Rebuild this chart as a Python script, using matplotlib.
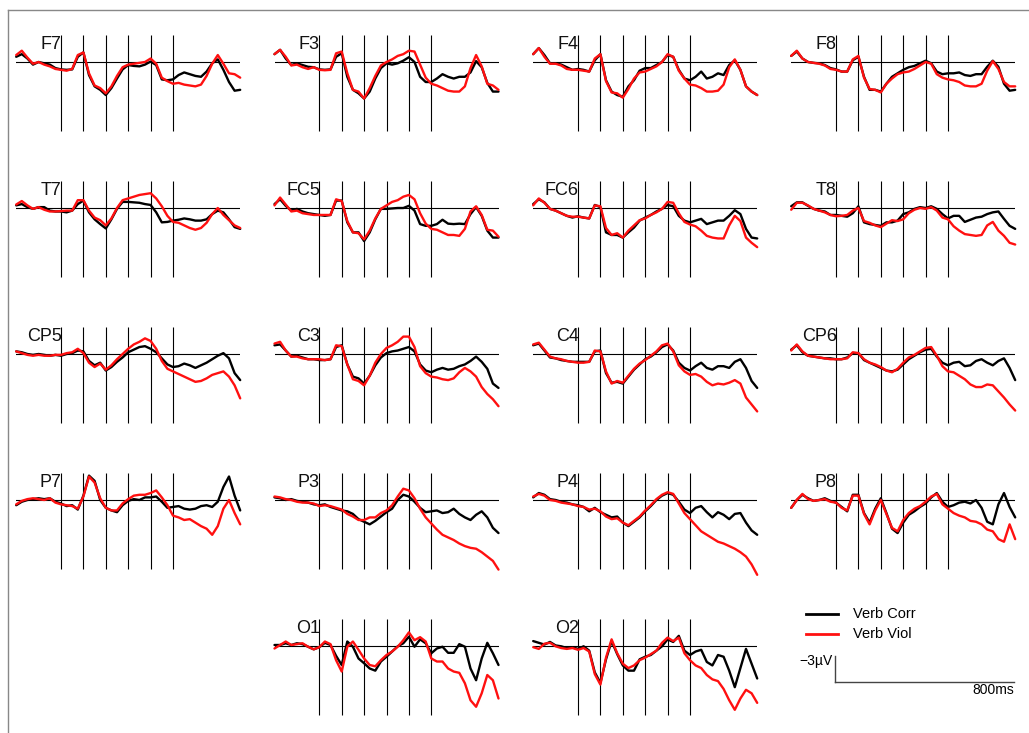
import numpy as np
import matplotlib
matplotlib.use('Agg')
import matplotlib.pyplot as plt
from matplotlib.lines import Line2D

plt.rcParams['font.family'] = ['Liberation Sans', 'DejaVu Sans']

# time axis (ms) and the marker lines
times = np.arange(-200, 801, 25)
markers = [0, 100, 200, 300, 400, 500]

# amplitudes in microvolt, negative plotted up
f7_corr = [-0.6, -0.9, -0.4, 0.3, 0.0, 0.15, 0.3, 0.7, 0.85, 0.9, 0.85, -0.6, -1.1, 1.5, 2.8, 3.2, 3.8, 3.0, 1.9, 0.85, 0.35, 0.45, 0.5, 0.3, -0.05, 0.35, 2.0, 2.1, 2.0, 1.5, 1.2, 1.4, 1.6, 1.7, 1.1, 0.15, -0.3, 0.9, 2.3, 3.3, 3.2]
f7_viol = [-0.8, -1.3, -0.5, 0.2, 0.0, 0.3, 0.5, 0.8, 0.9, 1.0, 0.8, -0.8, -1.1, 1.3, 2.7, 3.0, 3.6, 2.8, 1.6, 0.6, 0.3, 0.2, 0.1, 0.0, -0.4, 0.2, 1.8, 2.2, 2.5, 2.4, 2.6, 2.7, 2.8, 2.6, 1.6, 0.2, -0.8, 0.2, 1.3, 1.4, 1.8]
f3_corr = [-0.9, -1.4, -0.4, 0.35, 0.15, 0.35, 0.55, 0.6, 0.85, 0.9, 0.85, -0.6, -1.0, 1.7, 3.2, 3.6, 4.2, 3.4, 1.9, 0.7, 0.15, 0.3, 0.15, -0.15, -0.55, 0.0, 1.7, 2.3, 2.3, 1.9, 1.4, 1.7, 1.9, 1.7, 1.7, 1.2, -0.1, 0.6, 2.4, 3.4, 3.4]
f3_viol = [-0.9, -1.4, -0.6, 0.4, 0.3, 0.6, 0.8, 0.6, 0.9, 0.95, 0.9, -1.0, -1.2, 1.3, 3.2, 3.4, 4.2, 3.0, 1.6, 0.4, 0.0, -0.3, -0.7, -0.9, -1.3, -1.2, 0.3, 1.8, 2.5, 2.7, 3.0, 3.3, 3.4, 3.4, 2.8, 0.7, -0.8, 0.5, 2.5, 2.7, 3.2]
f4_corr = [-0.9, -1.6, -0.8, 0.15, 0.15, 0.3, 0.6, 0.9, 0.8, 0.9, 1.1, -0.2, -0.9, 2.1, 3.4, 3.8, 4.0, 2.8, 2.1, 1.0, 0.7, 0.7, 0.35, 0.0, -0.8, -0.6, 0.9, 1.9, 2.1, 1.7, 1.1, 1.9, 1.7, 1.3, 1.5, 0.35, -0.2, 0.9, 2.8, 3.4, 3.8]
f4_viol = [-0.9, -1.6, -0.6, 0.2, 0.2, 0.4, 0.8, 0.9, 0.9, 1.0, 1.1, -0.4, -0.9, 2.2, 3.5, 3.6, 4.1, 3.1, 1.9, 1.2, 1.1, 0.8, 0.5, 0.0, -0.9, -0.6, 1.0, 1.9, 2.6, 2.7, 3.0, 3.4, 3.4, 3.3, 2.6, 0.6, -0.3, 0.9, 2.8, 3.4, 3.8]
f8_corr = [-0.7, -1.2, -0.4, 0.0, 0.1, 0.15, 0.35, 0.7, 0.85, 1.1, 1.1, -0.2, -0.6, 1.7, 3.2, 3.2, 3.4, 2.5, 1.7, 1.3, 0.9, 0.6, 0.45, 0.15, -0.15, 0.15, 1.1, 1.4, 1.3, 1.3, 1.2, 1.5, 1.6, 1.4, 1.4, 0.55, -0.15, 0.55, 2.5, 3.3, 3.2]
f8_viol = [-0.7, -1.3, -0.4, 0.0, 0.1, 0.2, 0.4, 0.8, 0.9, 1.1, 1.1, -0.3, -0.7, 1.8, 3.1, 3.2, 3.5, 2.5, 1.9, 1.4, 1.2, 1.1, 0.8, 0.4, 0.0, 0.2, 1.4, 1.8, 2.0, 2.1, 2.3, 2.7, 2.8, 2.8, 2.5, 1.0, -0.1, 0.8, 2.3, 2.8, 2.8]
t7_corr = [-0.3, -0.45, -0.1, 0.1, -0.1, -0.1, 0.3, 0.4, 0.4, 0.5, 0.3, -0.45, -0.85, 0.5, 1.3, 1.85, 2.35, 1.3, 0.1, -0.7, -0.7, -0.65, -0.6, -0.45, -0.35, 0.5, 1.65, 1.6, 1.45, 1.35, 1.2, 1.3, 1.45, 1.45, 1.3, 0.7, 0.3, 0.5, 1.3, 2.2, 2.4]
t7_viol = [-0.4, -0.8, -0.3, 0.1, -0.1, 0.2, 0.4, 0.4, 0.35, 0.3, 0.3, -0.9, -0.9, 0.3, 1.1, 1.4, 2.0, 1.2, 0.0, -0.9, -1.1, -1.3, -1.5, -1.6, -1.7, -1.1, -0.2, 0.9, 1.6, 1.7, 2.0, 2.3, 2.5, 2.3, 1.7, 0.7, 0.0, 0.8, 1.4, 2.0, 2.3]
fc5_corr = [-0.45, -1.0, -0.25, 0.3, 0.1, 0.4, 0.6, 0.7, 0.8, 0.9, 0.8, -0.85, -0.85, 1.65, 2.8, 2.8, 3.8, 2.8, 1.3, 0.1, 0.1, 0.05, 0.0, 0.0, -0.25, 0.3, 1.85, 2.05, 2.05, 1.85, 1.35, 1.8, 1.85, 1.8, 1.85, 0.7, -0.1, 0.9, 2.6, 3.4, 3.4]
fc5_viol = [-0.3, -1.2, -0.4, 0.4, 0.3, 0.6, 0.7, 0.8, 0.8, 0.8, 0.8, -1.0, -0.8, 1.5, 2.8, 2.9, 3.6, 2.6, 1.2, 0.1, -0.3, -0.7, -0.9, -1.3, -1.5, -1.0, 0.6, 1.8, 2.4, 2.5, 2.8, 3.1, 3.1, 3.2, 2.4, 0.4, -0.2, 0.8, 2.5, 2.6, 3.3]
fc6_corr = [-0.45, -1.0, -0.65, 0.1, 0.3, 0.6, 0.9, 1.1, 0.95, 1.1, 1.2, -0.35, -0.1, 2.8, 3.1, 3.1, 3.4, 2.8, 2.25, 1.45, 1.1, 0.8, 0.4, 0.1, -0.35, -0.2, 0.9, 1.45, 1.65, 1.45, 1.25, 1.85, 1.65, 1.45, 1.45, 0.9, 0.25, 0.7, 2.4, 3.4, 3.5]
fc6_viol = [-0.3, -1.1, -0.6, 0.1, 0.3, 0.6, 0.9, 1.0, 1.0, 1.1, 1.2, -0.3, -0.2, 2.3, 3.1, 2.9, 3.4, 2.6, 2.0, 1.4, 1.2, 0.8, 0.5, 0.1, -0.7, -0.6, 0.6, 1.6, 1.9, 2.1, 2.6, 3.2, 3.4, 3.5, 3.5, 2.0, 0.9, 1.5, 3.4, 4.0, 4.5]
t8_corr = [-0.2, -0.65, -0.65, -0.25, 0.1, 0.3, 0.4, 0.8, 0.8, 0.9, 1.0, 0.6, -0.2, 1.65, 1.85, 1.95, 2.05, 1.65, 1.65, 1.45, 0.7, 0.5, 0.1, -0.1, 0.0, -0.2, 0.1, 0.7, 1.2, 0.9, 0.9, 1.6, 1.35, 1.1, 1.0, 0.7, 0.5, 0.4, 1.25, 2.05, 2.4]
t8_viol = [0.2, -0.6, -0.6, -0.3, 0.1, 0.3, 0.5, 0.8, 0.95, 0.9, 0.8, 0.3, 0.0, 1.5, 1.7, 2.0, 2.2, 1.8, 1.4, 1.5, 1.3, 0.6, 0.2, 0.0, 0.1, -0.1, 0.3, 1.1, 1.3, 2.1, 2.6, 3.0, 3.1, 3.2, 3.1, 2.0, 1.6, 2.6, 3.2, 4.0, 4.2]
cp5_corr = [-0.3, -0.2, 0.0, 0.1, 0.0, 0.1, 0.2, 0.1, 0.2, 0.0, -0.1, -0.4, -0.3, 0.8, 1.3, 1.0, 1.9, 1.5, 0.9, 0.4, -0.2, -0.5, -0.8, -0.9, -0.6, -0.2, 0.5, 1.2, 1.5, 1.4, 1.1, 1.3, 1.6, 1.3, 1.0, 0.6, 0.2, -0.1, 0.5, 2.2, 3.0]
cp5_viol = [-0.3, -0.1, 0.1, 0.2, 0.1, 0.2, 0.2, 0.1, 0.1, -0.1, -0.2, -0.6, -0.1, 1.0, 1.5, 1.1, 1.8, 1.3, 0.6, 0.0, -0.6, -1.1, -1.4, -1.8, -1.5, -0.6, 0.8, 1.7, 2.0, 2.3, 2.6, 2.9, 3.2, 3.1, 2.8, 2.4, 2.2, 2.0, 2.6, 3.6, 5.1]
c3_corr = [-1.0, -1.1, -0.4, 0.3, 0.2, 0.4, 0.6, 0.6, 0.7, 0.7, 0.6, -0.8, -1.0, 1.2, 2.6, 2.8, 3.4, 2.5, 1.3, 0.4, -0.1, -0.3, -0.4, -0.6, -0.8, -0.3, 1.2, 1.9, 2.1, 1.8, 1.6, 1.8, 1.7, 1.4, 1.2, 0.8, 0.3, 0.9, 1.7, 3.4, 3.9]
c3_viol = [-1.2, -1.4, -0.4, 0.3, 0.3, 0.5, 0.6, 0.6, 0.6, 0.7, 0.6, -1.0, -0.9, 1.2, 2.9, 3.1, 3.6, 2.5, 1.0, 0.0, -0.7, -1.0, -1.4, -2.0, -2.0, -0.8, 1.4, 2.2, 2.6, 2.7, 2.9, 3.0, 2.8, 2.1, 1.6, 2.0, 2.6, 3.8, 4.6, 5.2, 6.0]
c4_corr = [-1.0, -1.2, -0.4, 0.4, 0.5, 0.7, 0.8, 0.9, 0.9, 0.9, 0.9, -0.3, -0.4, 2.2, 3.3, 3.2, 3.4, 2.6, 1.8, 1.2, 0.6, 0.3, -0.2, -0.8, -1.1, -0.4, 1.0, 1.6, 1.9, 1.4, 1.0, 1.6, 1.8, 1.4, 1.4, 1.6, 0.9, 0.6, 1.6, 3.1, 3.9]
c4_viol = [-1.1, -1.3, -0.5, 0.3, 0.5, 0.6, 0.8, 0.9, 1.0, 1.0, 0.9, -0.4, -0.3, 2.0, 3.4, 3.1, 3.3, 2.5, 1.7, 1.1, 0.7, 0.2, -0.3, -1.0, -1.2, -0.3, 1.3, 2.0, 2.4, 2.3, 2.6, 3.2, 3.6, 3.4, 3.5, 3.3, 3.0, 3.4, 5.0, 5.8, 6.6]
cp6_corr = [-0.5, -1.0, -0.2, 0.2, 0.3, 0.4, 0.5, 0.5, 0.6, 0.6, 0.4, -0.1, -0.1, 0.7, 1.0, 1.3, 1.6, 1.9, 2.0, 1.8, 1.2, 0.6, 0.2, -0.2, -0.5, -0.6, 0.3, 1.0, 1.3, 1.0, 0.9, 1.4, 1.3, 0.8, 0.6, 1.0, 1.3, 0.8, 0.5, 1.6, 3.0]
cp6_viol = [-0.4, -1.1, -0.3, 0.2, 0.3, 0.4, 0.5, 0.6, 0.6, 0.6, 0.5, -0.2, -0.1, 0.6, 1.0, 1.2, 1.5, 1.9, 2.1, 1.7, 1.0, 0.4, 0.1, -0.3, -0.7, -0.8, 0.2, 1.4, 2.0, 2.1, 2.5, 2.9, 3.5, 3.8, 3.8, 3.5, 3.6, 4.3, 5.0, 5.8, 6.5]
p7_corr = [0.6, 0.2, 0.0, -0.1, -0.2, -0.1, -0.2, 0.2, 0.4, 0.7, 0.6, 1.1, -0.5, -2.8, -2.2, 0.0, 0.9, 1.2, 1.4, 0.6, 0.1, -0.1, 0.0, -0.3, -0.3, -0.4, 0.2, 0.9, 0.8, 0.7, 1.0, 1.1, 1.0, 0.7, 0.6, 0.8, 0.2, -1.5, -2.7, -0.5, 1.2]
p7_viol = [0.5, 0.1, -0.1, -0.2, -0.1, 0.0, -0.2, 0.3, 0.5, 0.6, 0.7, 1.0, -0.4, -2.7, -2.0, -0.2, 0.9, 1.2, 1.2, 0.4, -0.1, -0.5, -0.6, -0.6, -0.8, -1.1, -0.3, 0.6, 1.8, 2.0, 2.3, 2.2, 2.6, 3.0, 3.3, 4.0, 3.0, 1.0, 0.0, 1.5, 2.8]
p3_corr = [-0.3, -0.2, 0.0, -0.1, 0.1, 0.2, 0.3, 0.5, 0.6, 0.5, 0.8, 1.0, 1.2, 1.3, 1.6, 2.2, 2.5, 2.8, 2.4, 1.9, 1.4, 1.0, 0.0, -0.6, -0.4, 0.2, 0.9, 1.4, 1.3, 1.2, 1.5, 1.4, 1.0, 1.6, 2.0, 2.3, 1.7, 1.3, 2.0, 3.2, 3.8]
p3_viol = [-0.4, -0.3, -0.1, 0.0, 0.2, 0.3, 0.3, 0.4, 0.7, 0.6, 0.7, 0.9, 1.1, 1.6, 1.9, 2.3, 2.3, 2.0, 2.0, 1.5, 1.2, 0.6, -0.4, -1.3, -1.1, -0.2, 1.0, 2.0, 2.7, 3.4, 4.0, 4.3, 4.6, 5.0, 5.3, 5.5, 5.6, 6.0, 6.5, 7.0, 8.0]
p4_corr = [-0.3, -0.8, -0.6, -0.1, 0.0, 0.2, 0.3, 0.5, 0.6, 0.8, 1.3, 0.9, 1.4, 1.7, 2.0, 1.9, 2.6, 3.0, 2.5, 2.0, 1.3, 0.7, 0.0, -0.5, -0.8, -0.6, 0.2, 1.1, 1.5, 0.9, 0.7, 1.4, 2.0, 1.4, 1.7, 2.2, 1.6, 1.5, 2.6, 3.5, 4.0]
p4_viol = [-0.4, -0.7, -0.5, 0.0, 0.1, 0.3, 0.4, 0.5, 0.7, 0.8, 1.1, 1.0, 1.3, 1.9, 2.2, 2.1, 2.6, 2.9, 2.4, 1.9, 1.2, 0.6, -0.1, -0.6, -0.9, -0.7, 0.4, 1.5, 2.2, 2.9, 3.6, 4.0, 4.4, 4.8, 5.0, 5.3, 5.6, 6.0, 6.5, 7.4, 8.6]
p8_corr = [0.9, 0.0, -0.6, -0.2, 0.1, 0.0, -0.2, 0.1, 0.3, 0.8, 1.3, -0.6, -0.6, 1.5, 2.6, 1.0, -0.2, 1.5, 3.3, 3.8, 2.6, 1.7, 1.3, 0.8, 0.4, -0.3, -0.8, 0.2, 0.8, 0.6, 0.3, 0.2, 0.4, 0.0, 0.9, 2.5, 2.8, 0.5, -0.8, 0.8, 2.0]
p8_viol = [0.9, 0.0, -0.7, -0.1, 0.1, 0.0, -0.1, 0.2, 0.3, 0.9, 1.2, -0.5, -0.5, 1.6, 2.8, 1.2, 0.0, 1.6, 3.2, 3.6, 2.3, 1.5, 1.0, 0.7, 0.2, -0.4, -0.7, 0.5, 1.0, 1.5, 1.8, 2.0, 2.4, 2.5, 2.8, 3.4, 3.6, 4.5, 4.8, 2.8, 4.5]
o1_corr = [-0.15, -0.15, -0.35, -0.15, -0.35, -0.25, 0.05, 0.35, 0.1, -0.4, -0.15, 1.1, 2.15, -0.55, 0.05, 1.4, 1.95, 2.55, 2.8, 1.75, 1.2, 0.6, 0.0, -0.35, -1.1, 0.05, -0.8, -0.35, 0.8, 0.25, 0.05, 0.75, 0.75, -0.25, 0.05, 2.55, 3.9, 1.4, -0.4, 0.8, 2.15]
o1_viol = [0.25, -0.15, -0.55, -0.15, -0.25, -0.35, 0.05, 0.35, 0.1, -0.55, -0.25, 1.6, 2.9, 0.05, -0.55, 0.4, 1.4, 2.15, 2.3, 1.6, 1.0, 0.6, 0.05, -0.7, -1.6, -0.7, -1.05, -0.55, 1.4, 1.75, 1.75, 2.55, 2.9, 3.05, 4.25, 6.2, 6.95, 5.4, 3.3, 3.9, 6.0]
o2_corr = [-0.6, -0.4, -0.2, -0.5, -0.1, 0.0, 0.2, 0.1, 0.3, 0.0, 0.5, 3.0, 4.2, 1.5, -0.6, 0.9, 2.2, 2.8, 2.8, 1.5, 1.2, 1.0, 0.5, 0.0, -0.8, -0.5, -1.2, 0.5, 1.0, 0.6, 0.4, 1.8, 2.2, 1.0, 1.2, 2.8, 4.7, 2.5, 0.3, 2.0, 3.7]
o2_viol = [0.1, 0.3, -0.3, -0.4, 0.0, 0.2, 0.3, 0.2, 0.4, 0.2, 0.6, 3.2, 4.4, 1.3, -0.8, 0.8, 2.0, 2.5, 2.2, 1.6, 1.3, 0.9, 0.5, -0.4, -1.0, -0.6, -1.0, 0.8, 1.6, 2.2, 2.5, 3.3, 3.8, 4.0, 4.9, 6.2, 7.3, 6.0, 5.0, 5.4, 6.5]

channels = [
    ('F7', f7_corr, f7_viol, 0, 0), ('F3', f3_corr, f3_viol, 0, 1),
    ('F4', f4_corr, f4_viol, 0, 2), ('F8', f8_corr, f8_viol, 0, 3),
    ('T7', t7_corr, t7_viol, 1, 0), ('FC5', fc5_corr, fc5_viol, 1, 1),
    ('FC6', fc6_corr, fc6_viol, 1, 2), ('T8', t8_corr, t8_viol, 1, 3),
    ('CP5', cp5_corr, cp5_viol, 2, 0), ('C3', c3_corr, c3_viol, 2, 1),
    ('C4', c4_corr, c4_viol, 2, 2), ('CP6', cp6_corr, cp6_viol, 2, 3),
    ('P7', p7_corr, p7_viol, 3, 0), ('P3', p3_corr, p3_viol, 3, 1),
    ('P4', p4_corr, p4_viol, 3, 2), ('P8', p8_corr, p8_viol, 3, 3),
    ('O1', o1_corr, o1_viol, 4, 1), ('O2', o2_corr, o2_viol, 4, 2),
]

W, H = 1029, 733
fig = plt.figure(figsize=(W / 100, H / 100), dpi=100)
fig.patch.set_facecolor('white')

px_ms = 0.224   # pixels per ms
px_uv = 8.7     # pixels per microvolt
col_t0 = [61, 319.3, 578, 836]
row_base = [62, 208, 354, 500, 646.3]
ytop, ybot = -4, 10


def make_axes(x_left, base_y, xlo, xhi):
    # x_left = pixel of xlo, base_y = pixel of 0 uV
    top = base_y + ytop * px_uv
    height = (ybot - ytop) * px_uv
    width = (xhi - xlo) * px_ms
    ax = fig.add_axes([x_left / W, 1 - (top + height) / H, width / W, height / H])
    ax.set_xlim(xlo, xhi)
    ax.set_ylim(ybot, ytop)
    ax.axis('off')
    return ax


for name, corr, viol, r, c in channels:
    ax = make_axes(col_t0[c] - 200 * px_ms, row_base[r], -200, 800)
    ax.plot([-200, 800], [0, 0], color='black', lw=0.8)
    ax.vlines(markers, -3.1, 7.9, color='black', lw=0.8)
    ax.plot(times, corr, color='black', lw=1.7, clip_on=False,
            solid_joinstyle='round', solid_capstyle='round')
    ax.plot(times, viol, color='#ff1010', lw=1.7, clip_on=False,
            solid_joinstyle='round', solid_capstyle='round')
    ax.text(3, -1.5, name, ha='right', va='baseline', fontsize=13, color='#111111')

# scale bar
sax = make_axes(835, 681.7, 0, 1000)
sax.plot([0, 800], [0, 0], color='#444444', lw=1.0, clip_on=False)
sax.plot([0, 0], [0, -3], color='#444444', lw=1.0, clip_on=False)
sax.text(-10, -2.4, '\u22123\u00b5V', ha='right', va='center', fontsize=10)
sax.text(800, 0.1, '800ms', ha='right', va='top', fontsize=10)

# legend
for yy, col, lab in [(614, 'black', 'Verb Corr'), (634, '#ff1010', 'Verb Viol')]:
    fig.add_artist(Line2D([806 / W, 838 / W], [1 - yy / H, 1 - yy / H], color=col, lw=2))
    fig.text(853 / W, 1 - yy / H, lab, ha='left', va='center', fontsize=10.5)

# gray frame on left and top
fig.add_artist(Line2D([8 / W, 8 / W], [0, 1 - 10 / H], color='#888888', lw=1))
fig.add_artist(Line2D([8 / W, 1], [1 - 10 / H, 1 - 10 / H], color='#888888', lw=1))

fig.savefig('out.png', dpi=100)
